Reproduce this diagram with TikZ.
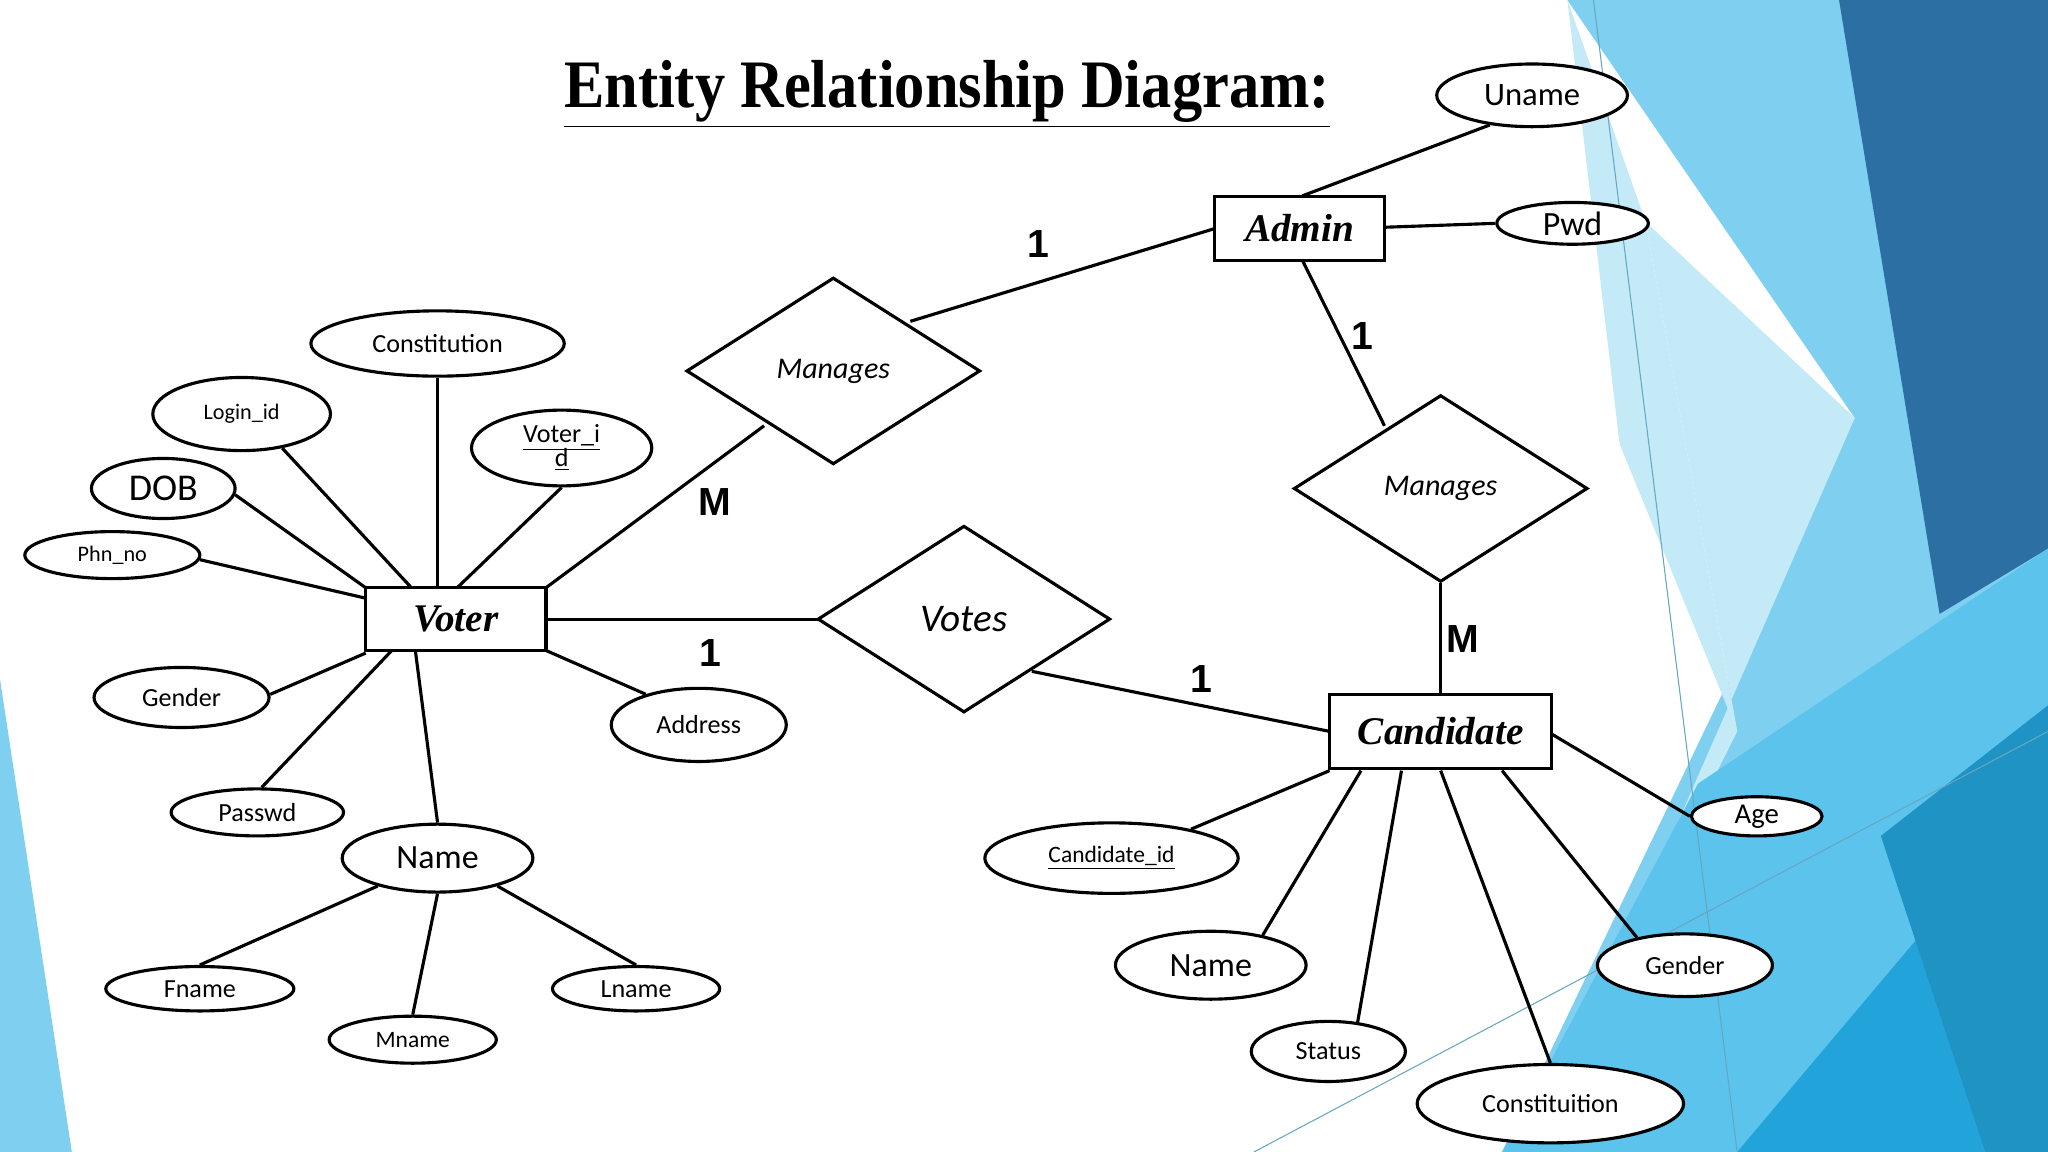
\documentclass[tikz,border=0pt]{standalone}
\usepackage{fontspec}
\setmainfont{Carlito}
\newfontfamily\titlefont{Liberation Serif}
\newfontfamily\entfont{Liberation Serif}
\newfontfamily\cardfont{Liberation Sans}
\usetikzlibrary{shapes.geometric,calc}
\definecolor{lb}{HTML}{7FD0F0}
\definecolor{pb}{HTML}{C4EAF8}
\definecolor{db}{HTML}{2C6FA3}
\definecolor{mb}{HTML}{22A3DA}
\definecolor{cb}{HTML}{5CC4EC}
\tikzset{
 attr/.style={draw,ellipse,line width=1.2pt,inner sep=0pt,fill=white},
 ent/.style={draw,rectangle,line width=1.3pt,inner sep=0pt,fill=white,font=\entfont\bfseries\itshape\fontsize{15}{15}\selectfont},
 rel/.style={draw,diamond,line width=1.2pt,inner sep=0pt,aspect=1.57,fill=white,font=\itshape\fontsize{11.5}{12}\selectfont},
 conn/.style={line width=1.2pt},
 card/.style={font=\cardfont\bfseries\fontsize{15}{15}\selectfont}
}
\begin{document}
\begin{tikzpicture}[x=0.5pt,y=-0.5pt]
\useasboundingbox (0,0) rectangle (1568,882);
\fill[white] (0,0) rectangle (1568,882);
% background
\fill[lb] (1200,0) -- (1568,0) -- (1568,882) -- (1150,882) -- (1420,320) -- cycle;
\fill[pb] (1260,170) -- (1420,320) -- (1210,800) -- (1330,560) -- cycle;
\fill[pb] (1200,0) -- (1260,170) -- (1330,560) -- (1240,340) -- cycle;
\fill[db] (1408,0) -- (1568,0) -- (1568,420) -- (1485,470) -- cycle;
\fill[cb] (1300,600) -- (1568,420) -- (1568,882) -- (1150,882) -- cycle;
\fill[mb] (1330,882) -- (1568,600) -- (1568,882) -- cycle;
\fill[mb!90!black] (1440,640) -- (1568,540) -- (1568,882) -- (1520,882) -- cycle;
\draw[lb!80!black,line width=0.4pt] (1220,0) -- (1330,882);
\draw[lb!80!black,line width=0.4pt] (960,882) -- (1568,560);
\fill[lb] (0,520) -- (55,882) -- (0,882) -- cycle;
% title
\node (title) at (725,72) {\titlefont\bfseries\fontsize{26}{26}\selectfont\scalebox{0.89}[1]{\underline{Entity Relationship Diagram:}}};
% entities
\node[ent,minimum width=65pt,minimum height=24.5pt] (admin) at (995,175) {Admin};
\node[ent,minimum width=69pt,minimum height=24pt] (voter) at (349,474) {Voter};
\node[ent,minimum width=85pt,minimum height=28.5pt] (cand) at (1103,560) {Candidate};
% relationships
\node[rel,minimum width=112.5pt,minimum height=71.5pt] (man1) at (638,284) {Manages};
\node[rel,minimum width=112.5pt,minimum height=71.5pt] (man2) at (1103,374) {Manages};
\node[rel,minimum width=112pt,minimum height=71.5pt,font=\itshape\fontsize{15}{15}\selectfont] (votes) at (738,474) {Votes};
% attributes
\node[attr,minimum width=73pt,minimum height=24pt,font=\fontsize{12.5}{13}\selectfont] (uname) at (1173,73) {Uname};
\node[attr,minimum width=58pt,minimum height=16pt,font=\fontsize{13}{13}\selectfont] (pwd) at (1204,171) {Pwd};
\node[attr,minimum width=97pt,minimum height=25pt,font=\fontsize{10}{11}\selectfont] (constv) at (335,263) {Constitution};
\node[attr,minimum width=68pt,minimum height=28pt,font=\fontsize{8.5}{9}\selectfont] (login) at (185,317) {Login\_id};
\node[attr,minimum width=69pt,minimum height=29pt,font=\fontsize{10}{11}\selectfont,align=center] (vid) at (430,343) {\underline{Voter\_i}\\[-2pt]\underline{d}};
\node[attr,minimum width=55pt,minimum height=23pt,font=\fontsize{14.5}{15}\selectfont] (dob) at (125,374) {DOB};
\node[attr,minimum width=67pt,minimum height=18pt,font=\fontsize{8.5}{9}\selectfont] (phn) at (86,425) {Phn\_no};
\node[attr,minimum width=67pt,minimum height=23pt,font=\fontsize{10}{11}\selectfont] (genv) at (139,534) {Gender};
\node[attr,minimum width=66pt,minimum height=18pt,font=\fontsize{10}{11}\selectfont] (pass) at (197,622) {Passwd};
\node[attr,minimum width=73pt,minimum height=26pt,font=\fontsize{13}{13}\selectfont] (namev) at (335,657) {Name};
\node[attr,minimum width=67pt,minimum height=28pt,font=\fontsize{10}{11}\selectfont] (addr) at (535,555) {Address};
\node[attr,minimum width=72pt,minimum height=17pt,font=\fontsize{10}{11}\selectfont] (fname) at (153,757) {Fname};
\node[attr,minimum width=64pt,minimum height=18pt,font=\fontsize{9}{10}\selectfont] (mname) at (316,796) {Mname};
\node[attr,minimum width=64pt,minimum height=17pt,font=\fontsize{10}{11}\selectfont] (lname) at (487,757) {Lname};
\node[attr,minimum width=97pt,minimum height=27pt,font=\fontsize{9}{10}\selectfont] (cid) at (851,657) {\underline{Candidate\_id}};
\node[attr,minimum width=73pt,minimum height=26pt,font=\fontsize{13}{13}\selectfont] (namec) at (927,739) {Name};
\node[attr,minimum width=59pt,minimum height=23pt,font=\fontsize{10}{11}\selectfont] (status) at (1017,805) {Status};
\node[attr,minimum width=102pt,minimum height=30pt,font=\fontsize{10}{11}\selectfont] (constc) at (1187,845) {Constituition};
\node[attr,minimum width=67pt,minimum height=24pt,font=\fontsize{10}{11}\selectfont] (genc) at (1290,739) {Gender};
\node[attr,minimum width=50pt,minimum height=15pt,font=\fontsize{11}{11}\selectfont] (age) at (1345,625) {Age};
% anchor points on entity / relationship borders
\coordinate (v1) at (335,450); \coordinate (v2) at (315,450); \coordinate (v3) at (280,450);
\coordinate (v4) at (280,458); \coordinate (v5) at (350,450); \coordinate (v6) at (280,500);
\coordinate (v7) at (300,498); \coordinate (v8) at (318,498); \coordinate (v9) at (418,498);
\coordinate (v10) at (418,450); \coordinate (v11) at (418,474);
\coordinate (c1) at (1018,590); \coordinate (c2) at (1042,590); \coordinate (c3) at (1073,590);
\coordinate (c4) at (1103,590); \coordinate (c5) at (1150,590); \coordinate (c6) at (1188,562);
\coordinate (c7) at (1103,532); \coordinate (c8) at (1018,560);
\coordinate (a1) at (930,175); \coordinate (a2) at (997,199); \coordinate (a3) at (997,150); \coordinate (a4) at (1060,174);
\coordinate (m1) at (697,246); \coordinate (m2) at (585,326); \coordinate (m3) at (1060,326);
\coordinate (vt1) at (626,474); \coordinate (vt2) at (790,514);
% connectors
\begin{scope}[conn]
\draw (v1) -- (constv.south); \draw (v2) -- (login.-40); \draw (v3) -- (dob.-5); \draw (v4) -- (phn.-3);
\draw (v5) -- (vid.-90); \draw (v6) -- (genv.2); \draw (v7) -- (pass.80); \draw (v8) -- (namev.north);
\draw (v9) -- (addr.150); \draw (v10) -- (m2); \draw (v11) -- (vt1);
\draw (namev.-155) -- (fname.north); \draw (namev.south) -- (mname.north); \draw (namev.-25) -- (lname.north);
\draw (a1) -- (m1); \draw (a2) -- (m3); \draw (a3) -- (uname.-145); \draw (a4) -- (pwd.west);
\draw (c7) -- (man2.south); \draw (vt2) -- (c8);
\draw (c1) -- (cid.20); \draw (c2) -- (namec.30); \draw (c3) -- (status.45); \draw (c4) -- (constc.north);
\draw (c5) -- (genc.150); \draw (c6) -- (age.west);
\end{scope}
% cardinalities
\node[card] at (795,187) {1};
\node[card] at (1043,257) {1};
\node[card] at (547,384) {M};
\node[card] at (544,500) {1};
\node[card] at (920,520) {1};
\node[card] at (1120,489) {M};
\end{tikzpicture}
\end{document}
